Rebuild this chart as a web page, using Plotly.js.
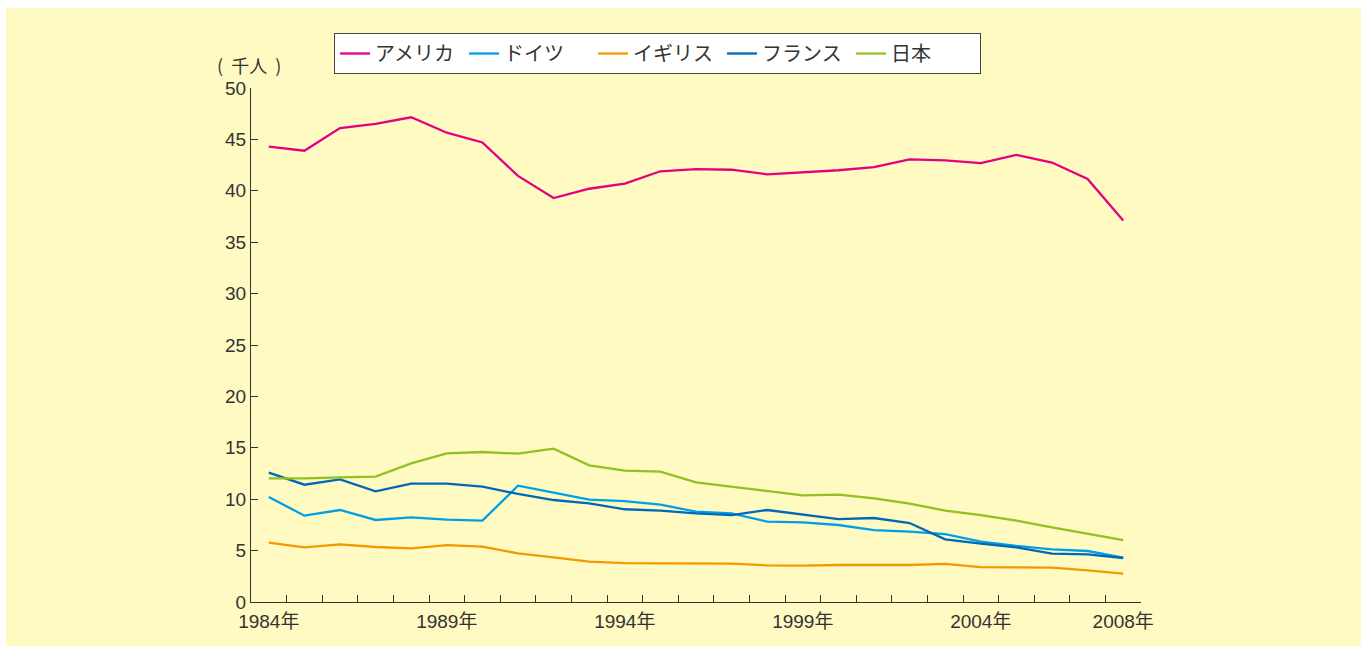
<!DOCTYPE html>
<html>
<head>
<meta charset="utf-8">
<script src="https://cdn.plot.ly/plotly-3.0.1.min.js"></script>
<style>
html,body{margin:0;padding:0;background:#ffffff;overflow:hidden;}
#chart{position:absolute;left:6px;top:8px;width:1355px;height:640px;}
</style>
</head>
<body>
<div id="chart"></div>
<script>
const years = [1984,1985,1986,1987,1988,1989,1990,1991,1992,1993,1994,1995,1996,1997,1998,1999,2000,2001,2002,2003,2004,2005,2006,2007,2008];
const usa     = [44.3,43.9,46.1,46.5,47.15,45.65,44.7,41.45,39.3,40.2,40.7,41.9,42.1,42.05,41.6,41.8,42.0,42.3,43.05,42.95,42.7,43.5,42.75,41.15,37.1];
const germany = [10.21,8.4,8.95,7.98,8.24,8.01,7.91,11.31,10.63,9.95,9.82,9.47,8.79,8.63,7.82,7.75,7.49,7.0,6.84,6.61,5.87,5.45,5.12,4.96,4.31];
const uk      = [5.77,5.32,5.61,5.35,5.22,5.54,5.38,4.73,4.35,3.92,3.79,3.76,3.74,3.74,3.57,3.54,3.6,3.6,3.6,3.7,3.4,3.37,3.34,3.08,2.75];
const france  = [12.58,11.41,11.93,10.77,11.51,11.51,11.22,10.51,9.92,9.6,9.02,8.89,8.63,8.46,8.95,8.5,8.07,8.17,7.68,6.1,5.67,5.32,4.7,4.64,4.28];
const japan   = [12.03,12.03,12.13,12.19,13.49,14.46,14.59,14.43,14.92,13.3,12.78,12.68,11.64,11.22,10.8,10.38,10.44,10.09,9.57,8.89,8.46,7.91,7.26,6.65,6.03];
const seriesNames = ["アメリカ","ドイツ","イギリス","フランス","日本"];
const labelYears = [1984,1989,1994,1999,2004,2008];
const labelText = labelYears.map(y => y + "年");
const boundaryTicks = years.map(y => y + 0.5);
const yTicks = [0,5,10,15,20,25,30,35,40,45,50];

const colors = ["#e4007f","#00a0e9","#f39800","#0068b7","#8fc31f"];
const data = [usa, germany, uk, france, japan];

const traces = data.map((vals, i) => ({
  type: "scatter",
  mode: "lines",
  x: years,
  y: vals,
  name: seriesNames[i],
  xaxis: i === 4 ? "x2" : "x",
  line: {color: colors[i], width: 2.3},
  hoverinfo: "skip"
}));

const layout = {
  width: 1355,
  height: 640,
  paper_bgcolor: "#fff9c2",
  plot_bgcolor: "#fff9c2",
  margin: {l: 245, r: 220, t: 80, b: 46},
  showlegend: true,
  legend: {
    orientation: "h",
    x: 0.0933, xanchor: "left",
    y: 1.107, yanchor: "top",
    bgcolor: "#ffffff",
    bordercolor: "#444444",
    borderwidth: 1,
    entrywidth: 84,
    entrywidthmode: "pixels",
    font: {family: "'Noto Sans CJK JP', sans-serif", size: 20, color: "#333333"},
    traceorder: "normal"
  },
  xaxis: {
    range: [1983.5, 2008.5],
    tickmode: "array",
    tickvals: boundaryTicks,
    showticklabels: false,
    ticks: "inside",
    ticklen: 7,
    tickcolor: "#333333",
    tickwidth: 1,
    showline: true,
    linecolor: "#333333",
    linewidth: 1,
    showgrid: false,
    zeroline: false,
    fixedrange: true
  },
  xaxis2: {
    overlaying: "x",
    anchor: "y",
    side: "bottom",
    range: [1983.5, 2008.5],
    tickmode: "array",
    tickvals: labelYears,
    ticktext: labelText,
    ticks: "",
    ticklabelstandoff: 6,
    showline: false,
    showgrid: false,
    zeroline: false,
    tickfont: {family: "'Liberation Sans', 'Noto Sans CJK JP', sans-serif", size: 19, color: "#333333"},
    fixedrange: true
  },
  yaxis: {
    range: [0, 50],
    tickmode: "array",
    tickvals: yTicks,
    ticktext: yTicks.map(String),
    ticks: "inside",
    ticklen: 7,
    tickcolor: "#333333",
    showline: true,
    linecolor: "#333333",
    linewidth: 1,
    showgrid: false,
    zeroline: false,
    tickfont: {family: "'Liberation Sans', sans-serif", size: 19, color: "#333333"},
    fixedrange: true
  },
  annotations: [{
    text: "(  千人  )",
    xref: "paper", yref: "paper",
    x: -0.002, y: 1.045,
    xanchor: "center", yanchor: "middle",
    showarrow: false,
    font: {family: "'Noto Sans CJK JP', sans-serif", size: 18, color: "#333333"}
  }]
};

Plotly.newPlot("chart", traces, layout, {displayModeBar: false, staticPlot: true});
</script>
</body>
</html>
